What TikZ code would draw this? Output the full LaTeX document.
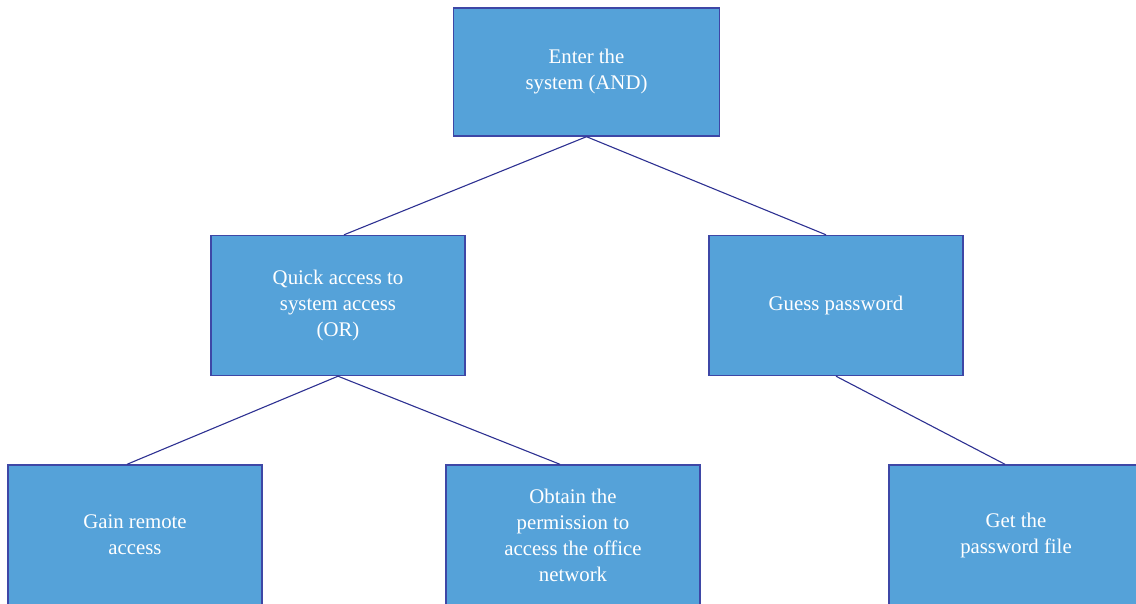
\documentclass[tikz,border=0pt]{standalone}
\usepackage{fontspec}
\setmainfont{Liberation Serif}
\definecolor{boxfill}{HTML}{55A2D9}
\definecolor{boxedge}{HTML}{3E47A6}
\definecolor{linkcol}{HTML}{2E3192}
\begin{document}
\begin{tikzpicture}[x=1pt,y=-1pt,
  goal/.style={draw=boxedge,line width=1.4pt,fill=boxfill,rectangle,
    minimum width=254pt,minimum height=140pt,align=center,text=white,
    font=\fontsize{20.8}{26}\selectfont,inner sep=0pt},
  link/.style={draw=linkcol,line width=1.1pt}]
\useasboundingbox (0,0) rectangle (1136,603);
\clip (0,0) rectangle (1136,603);
\fill[white] (0,0) rectangle (1136,603);

\node[goal,minimum width=266pt,minimum height=128pt] (root) at (586.5,72) {Enter the\\system (AND)};
\node[goal] (quick) at (338,305.5) {Quick access to\\system access\\(OR)};
\node[goal] (guess) at (836,305.5) {Guess password};
\node[goal] (remote) at (135,535) {Gain remote\\access};
\node[goal] (perm) at (573,535) {Obtain the\\permission to\\access the office\\network};
\node[goal] (file) at (1016,535) {Get the\\password file};

\draw[link] (root.south) -- ([xshift=6pt]quick.north);
\draw[link] (root.south) -- ([xshift=-10pt]guess.north);
\draw[link] (quick.south) -- ([xshift=-8pt]remote.north);
\draw[link] (quick.south) -- ([xshift=-13pt]perm.north);
\draw[link] (guess.south) -- ([xshift=-11pt]file.north);
\end{tikzpicture}
\end{document}
